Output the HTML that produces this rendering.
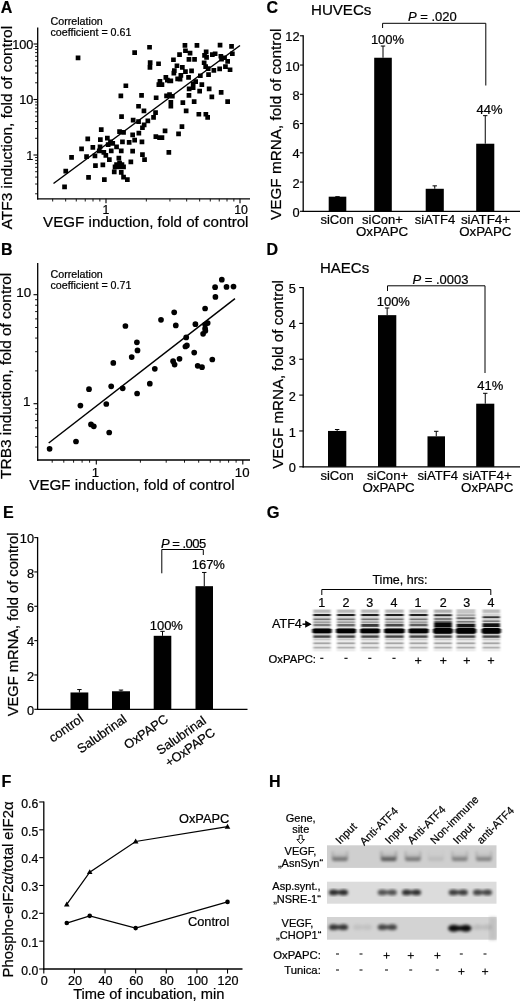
<!DOCTYPE html>
<html lang="en"><head><meta charset="utf-8"><title>Figure</title>
<style>
html,body{margin:0;padding:0;background:#fff}
svg{display:block;will-change:transform;opacity:0.999}
svg text{font-family:"Liberation Sans", Arial, Helvetica, sans-serif;fill:#000;stroke:#000;stroke-width:0.22px}
</style></head><body>
<svg width="520" height="1002" viewBox="0 0 520 1002">
<defs>
<linearGradient id="ugrad" x1="0" y1="0" x2="0" y2="1"><stop offset="0" stop-color="#000" stop-opacity="0"/><stop offset="0.5" stop-color="#000" stop-opacity="0.12"/><stop offset="0.74" stop-color="#000" stop-opacity="0.7"/><stop offset="0.88" stop-color="#000" stop-opacity="1"/><stop offset="1" stop-color="#000" stop-opacity="0.7"/></linearGradient>
<filter id="gblur" x="-5%" y="-10%" width="110%" height="120%"><feGaussianBlur stdDeviation="1.25 0.72"/></filter>
<filter id="hblur" x="-5%" y="-20%" width="110%" height="140%"><feGaussianBlur stdDeviation="1.35"/></filter>
</defs>
<rect width="520" height="1002" fill="#fff"/>
<g id="panelA">
<text x="0.7" y="12.6" font-size="16" font-weight="bold">A</text>
<line x1="37.7" y1="27.5" x2="37.7" y2="199.45000000000002" stroke="#000" stroke-width="1.3"/>
<line x1="37.050000000000004" y1="198.8" x2="250" y2="198.8" stroke="#000" stroke-width="1.3"/>
<line x1="35.1" y1="193.79283524064903" x2="37.7" y2="193.79283524064903" stroke="#000" stroke-width="0.9"/>
<line x1="35.1" y1="184.01977036305874" x2="37.7" y2="184.01977036305874" stroke="#000" stroke-width="0.9"/>
<line x1="35.1" y1="177.08567048129808" x2="37.7" y2="177.08567048129808" stroke="#000" stroke-width="0.9"/>
<line x1="35.1" y1="171.70716475935095" x2="37.7" y2="171.70716475935095" stroke="#000" stroke-width="0.9"/>
<line x1="35.1" y1="167.31260560370777" x2="37.7" y2="167.31260560370777" stroke="#000" stroke-width="0.9"/>
<line x1="35.1" y1="163.59705877920874" x2="37.7" y2="163.59705877920874" stroke="#000" stroke-width="0.9"/>
<line x1="35.1" y1="160.37850572194714" x2="37.7" y2="160.37850572194714" stroke="#000" stroke-width="0.9"/>
<line x1="35.1" y1="157.53954072611748" x2="37.7" y2="157.53954072611748" stroke="#000" stroke-width="0.9"/>
<line x1="35.1" y1="138.29283524064905" x2="37.7" y2="138.29283524064905" stroke="#000" stroke-width="0.9"/>
<line x1="35.1" y1="128.51977036305874" x2="37.7" y2="128.51977036305874" stroke="#000" stroke-width="0.9"/>
<line x1="35.1" y1="121.58567048129808" x2="37.7" y2="121.58567048129808" stroke="#000" stroke-width="0.9"/>
<line x1="35.1" y1="116.20716475935095" x2="37.7" y2="116.20716475935095" stroke="#000" stroke-width="0.9"/>
<line x1="35.1" y1="111.81260560370778" x2="37.7" y2="111.81260560370778" stroke="#000" stroke-width="0.9"/>
<line x1="35.1" y1="108.09705877920874" x2="37.7" y2="108.09705877920874" stroke="#000" stroke-width="0.9"/>
<line x1="35.1" y1="104.87850572194714" x2="37.7" y2="104.87850572194714" stroke="#000" stroke-width="0.9"/>
<line x1="35.1" y1="102.03954072611748" x2="37.7" y2="102.03954072611748" stroke="#000" stroke-width="0.9"/>
<line x1="35.1" y1="82.79283524064904" x2="37.7" y2="82.79283524064904" stroke="#000" stroke-width="0.9"/>
<line x1="35.1" y1="73.01977036305874" x2="37.7" y2="73.01977036305874" stroke="#000" stroke-width="0.9"/>
<line x1="35.1" y1="66.08567048129808" x2="37.7" y2="66.08567048129808" stroke="#000" stroke-width="0.9"/>
<line x1="35.1" y1="60.70716475935096" x2="37.7" y2="60.70716475935096" stroke="#000" stroke-width="0.9"/>
<line x1="35.1" y1="56.31260560370778" x2="37.7" y2="56.31260560370778" stroke="#000" stroke-width="0.9"/>
<line x1="35.1" y1="52.59705877920874" x2="37.7" y2="52.59705877920874" stroke="#000" stroke-width="0.9"/>
<line x1="35.1" y1="49.378505721947135" x2="37.7" y2="49.378505721947135" stroke="#000" stroke-width="0.9"/>
<line x1="35.1" y1="46.53954072611748" x2="37.7" y2="46.53954072611748" stroke="#000" stroke-width="0.9"/>
<line x1="33.5" y1="155.0" x2="37.7" y2="155.0" stroke="#000" stroke-width="1.1"/>
<line x1="33.5" y1="99.5" x2="37.7" y2="99.5" stroke="#000" stroke-width="1.1"/>
<line x1="33.5" y1="44.0" x2="37.7" y2="44.0" stroke="#000" stroke-width="1.1"/>
<text x="33.3" y="48.5" font-size="12.7" text-anchor="end">100</text>
<text x="33.3" y="104.0" font-size="12.7" text-anchor="end">10</text>
<text x="33.3" y="159.5" font-size="12.7" text-anchor="end">1</text>
<line x1="52.67603883794696" y1="198.8" x2="52.67603883794696" y2="201.5" stroke="#000" stroke-width="0.9"/>
<line x1="65.66198058102651" y1="198.8" x2="65.66198058102651" y2="201.5" stroke="#000" stroke-width="0.9"/>
<line x1="76.27226755140825" y1="198.8" x2="76.27226755140825" y2="201.5" stroke="#000" stroke-width="0.9"/>
<line x1="85.24313736191041" y1="198.8" x2="85.24313736191041" y2="201.5" stroke="#000" stroke-width="0.9"/>
<line x1="93.01405825692044" y1="198.8" x2="93.01405825692044" y2="201.5" stroke="#000" stroke-width="0.9"/>
<line x1="99.86849626486953" y1="198.8" x2="99.86849626486953" y2="201.5" stroke="#000" stroke-width="0.9"/>
<line x1="146.3380194189735" y1="198.8" x2="146.3380194189735" y2="201.5" stroke="#000" stroke-width="0.9"/>
<line x1="169.93424813243476" y1="198.8" x2="169.93424813243476" y2="201.5" stroke="#000" stroke-width="0.9"/>
<line x1="186.67603883794698" y1="198.8" x2="186.67603883794698" y2="201.5" stroke="#000" stroke-width="0.9"/>
<line x1="199.6619805810265" y1="198.8" x2="199.6619805810265" y2="201.5" stroke="#000" stroke-width="0.9"/>
<line x1="210.27226755140825" y1="198.8" x2="210.27226755140825" y2="201.5" stroke="#000" stroke-width="0.9"/>
<line x1="219.2431373619104" y1="198.8" x2="219.2431373619104" y2="201.5" stroke="#000" stroke-width="0.9"/>
<line x1="227.01405825692044" y1="198.8" x2="227.01405825692044" y2="201.5" stroke="#000" stroke-width="0.9"/>
<line x1="233.86849626486952" y1="198.8" x2="233.86849626486952" y2="201.5" stroke="#000" stroke-width="0.9"/>
<line x1="106.0" y1="198.8" x2="106.0" y2="203.20000000000002" stroke="#000" stroke-width="1.1"/>
<line x1="240.0" y1="198.8" x2="240.0" y2="203.20000000000002" stroke="#000" stroke-width="1.1"/>
<text x="106.0" y="213.5" font-size="12.3" text-anchor="middle">1</text>
<text x="241.0" y="213.5" font-size="12.3" text-anchor="middle">10</text>
<text x="50.5" y="24.6" font-size="10.7">Correlation</text>
<text x="50.5" y="35.9" font-size="10.7">coefficient = 0.61</text>
<text x="145.8" y="227" font-size="15.15" text-anchor="middle">VEGF induction, fold of control</text>
<text x="12.3" y="127.6" font-size="15.4" text-anchor="middle" transform="rotate(-90 12.3 127.6)">ATF3 induction, fold of control</text>
<line x1="53.5" y1="183.5" x2="240" y2="45.5" stroke="#000" stroke-width="1.5"/>
<path d="M62.2 184.6h4.7v4.7h-4.7zM63.4 168.8h4.7v4.7h-4.7zM69.2 155.1h4.7v4.7h-4.7zM79.2 146.6h4.7v4.7h-4.7zM85.4 136.6h4.7v4.7h-4.7zM84.2 154.2h4.7v4.7h-4.7zM86.2 175.1h4.7v4.7h-4.7zM90.5 145.1h4.7v4.7h-4.7zM92.6 153.5h4.7v4.7h-4.7zM93.1 163.3h4.7v4.7h-4.7zM98.9 127.2h4.7v4.7h-4.7zM98.0 137.3h4.7v4.7h-4.7zM97.7 144.6h4.7v4.7h-4.7zM96.9 148.5h4.7v4.7h-4.7zM100.5 162.6h4.7v4.7h-4.7zM102.0 177.2h4.7v4.7h-4.7zM101.5 150.0h4.7v4.7h-4.7zM119.2 114.2h4.7v4.7h-4.7zM130.8 117.7h4.7v4.7h-4.7zM136.2 119.2h4.7v4.7h-4.7zM141.6 108.5h4.7v4.7h-4.7zM145.5 118.5h4.7v4.7h-4.7zM151.2 115.1h4.7v4.7h-4.7zM153.2 110.2h4.7v4.7h-4.7zM141.8 122.6h4.7v4.7h-4.7zM140.1 125.4h4.7v4.7h-4.7zM117.2 129.2h4.7v4.7h-4.7zM121.2 130.0h4.7v4.7h-4.7zM136.5 130.8h4.7v4.7h-4.7zM130.3 132.6h4.7v4.7h-4.7zM105.0 135.8h4.7v4.7h-4.7zM120.1 139.5h4.7v4.7h-4.7zM126.8 140.0h4.7v4.7h-4.7zM132.3 137.7h4.7v4.7h-4.7zM139.6 139.5h4.7v4.7h-4.7zM108.1 139.5h4.7v4.7h-4.7zM105.8 142.2h4.7v4.7h-4.7zM110.4 141.1h4.7v4.7h-4.7zM114.2 144.6h4.7v4.7h-4.7zM108.9 148.5h4.7v4.7h-4.7zM118.9 148.5h4.7v4.7h-4.7zM130.3 148.8h4.7v4.7h-4.7zM103.5 153.1h4.7v4.7h-4.7zM107.0 157.3h4.7v4.7h-4.7zM116.5 155.8h4.7v4.7h-4.7zM140.1 152.2h4.7v4.7h-4.7zM142.2 157.2h4.7v4.7h-4.7zM128.5 159.5h4.7v4.7h-4.7zM114.2 162.2h4.7v4.7h-4.7zM117.2 160.8h4.7v4.7h-4.7zM119.6 162.2h4.7v4.7h-4.7zM116.5 164.6h4.7v4.7h-4.7zM121.2 164.6h4.7v4.7h-4.7zM112.7 164.6h4.7v4.7h-4.7zM111.9 169.5h4.7v4.7h-4.7zM118.9 170.0h4.7v4.7h-4.7zM121.2 174.8h4.7v4.7h-4.7zM125.0 177.2h4.7v4.7h-4.7zM153.5 134.2h4.7v4.7h-4.7zM157.2 135.3h4.7v4.7h-4.7zM159.6 135.3h4.7v4.7h-4.7zM162.7 128.5h4.7v4.7h-4.7zM176.2 131.5h4.7v4.7h-4.7zM179.6 124.2h4.7v4.7h-4.7zM166.5 150.0h4.7v4.7h-4.7zM147.2 44.9h4.7v4.7h-4.7zM132.3 50.2h4.7v4.7h-4.7zM147.8 60.2h4.7v4.7h-4.7zM147.6 65.1h4.7v4.7h-4.7zM156.2 61.4h4.7v4.7h-4.7zM163.5 75.1h4.7v4.7h-4.7zM167.2 78.5h4.7v4.7h-4.7zM165.0 77.7h4.7v4.7h-4.7zM157.6 78.9h4.7v4.7h-4.7zM156.5 82.2h4.7v4.7h-4.7zM159.6 82.2h4.7v4.7h-4.7zM123.5 83.4h4.7v4.7h-4.7zM118.5 93.5h4.7v4.7h-4.7zM139.2 93.1h4.7v4.7h-4.7zM153.8 95.4h4.7v4.7h-4.7zM164.2 93.5h4.7v4.7h-4.7zM167.2 92.2h4.7v4.7h-4.7zM136.2 103.9h4.7v4.7h-4.7zM182.6 43.0h4.7v4.7h-4.7zM194.6 43.0h4.7v4.7h-4.7zM217.7 42.8h4.7v4.7h-4.7zM229.2 44.1h4.7v4.7h-4.7zM183.1 48.4h4.7v4.7h-4.7zM187.7 50.8h4.7v4.7h-4.7zM177.2 52.2h4.7v4.7h-4.7zM171.1 57.4h4.7v4.7h-4.7zM186.6 57.1h4.7v4.7h-4.7zM192.2 57.1h4.7v4.7h-4.7zM203.8 49.6h4.7v4.7h-4.7zM202.2 53.0h4.7v4.7h-4.7zM204.2 55.0h4.7v4.7h-4.7zM210.0 52.2h4.7v4.7h-4.7zM212.8 51.4h4.7v4.7h-4.7zM218.5 53.9h4.7v4.7h-4.7zM222.2 55.4h4.7v4.7h-4.7zM219.2 56.9h4.7v4.7h-4.7zM230.0 51.4h4.7v4.7h-4.7zM225.3 59.1h4.7v4.7h-4.7zM201.8 60.4h4.7v4.7h-4.7zM203.3 64.2h4.7v4.7h-4.7zM174.6 63.4h4.7v4.7h-4.7zM180.0 65.1h4.7v4.7h-4.7zM172.0 68.2h4.7v4.7h-4.7zM171.5 70.8h4.7v4.7h-4.7zM183.1 69.2h4.7v4.7h-4.7zM189.2 68.5h4.7v4.7h-4.7zM178.5 73.1h4.7v4.7h-4.7zM175.3 76.6h4.7v4.7h-4.7zM177.7 76.9h4.7v4.7h-4.7zM186.2 75.1h4.7v4.7h-4.7zM168.5 78.5h4.7v4.7h-4.7zM205.8 66.2h4.7v4.7h-4.7zM211.5 68.0h4.7v4.7h-4.7zM217.3 66.6h4.7v4.7h-4.7zM223.1 64.2h4.7v4.7h-4.7zM227.7 67.4h4.7v4.7h-4.7zM206.2 72.2h4.7v4.7h-4.7zM198.0 73.4h4.7v4.7h-4.7zM193.3 79.2h4.7v4.7h-4.7zM190.8 81.5h4.7v4.7h-4.7zM199.5 82.2h4.7v4.7h-4.7zM190.8 85.4h4.7v4.7h-4.7zM186.8 86.5h4.7v4.7h-4.7zM206.8 86.5h4.7v4.7h-4.7zM197.3 88.8h4.7v4.7h-4.7zM218.8 90.0h4.7v4.7h-4.7zM186.6 93.1h4.7v4.7h-4.7zM209.5 94.6h4.7v4.7h-4.7zM170.0 93.9h4.7v4.7h-4.7zM180.5 100.2h4.7v4.7h-4.7zM191.8 99.2h4.7v4.7h-4.7zM225.3 99.2h4.7v4.7h-4.7zM168.5 100.0h4.7v4.7h-4.7zM168.5 103.9h4.7v4.7h-4.7zM183.8 108.5h4.7v4.7h-4.7zM196.5 111.9h4.7v4.7h-4.7zM203.5 111.9h4.7v4.7h-4.7zM205.3 115.1h4.7v4.7h-4.7zM75.7 55.6h4.7v4.7h-4.7z" fill="#000"/>
</g>
<g id="panelB">
<text x="1" y="254.6" font-size="16" font-weight="bold">B</text>
<line x1="37.7" y1="263" x2="37.7" y2="460.65" stroke="#000" stroke-width="1.3"/>
<line x1="37.050000000000004" y1="460" x2="250" y2="460" stroke="#000" stroke-width="1.3"/>
<line x1="35.1" y1="447.0754609452521" x2="37.7" y2="447.0754609452521" stroke="#000" stroke-width="0.9"/>
<line x1="35.1" y1="436.5122695273739" x2="37.7" y2="436.5122695273739" stroke="#000" stroke-width="0.9"/>
<line x1="35.1" y1="427.8815137081828" x2="37.7" y2="427.8815137081828" stroke="#000" stroke-width="0.9"/>
<line x1="35.1" y1="420.584313638446" x2="37.7" y2="420.584313638446" stroke="#000" stroke-width="0.9"/>
<line x1="35.1" y1="414.26319141787815" x2="37.7" y2="414.26319141787815" stroke="#000" stroke-width="0.9"/>
<line x1="35.1" y1="408.6875664711136" x2="37.7" y2="408.6875664711136" stroke="#000" stroke-width="0.9"/>
<line x1="35.1" y1="370.88773047262606" x2="37.7" y2="370.88773047262606" stroke="#000" stroke-width="0.9"/>
<line x1="35.1" y1="351.6937832355568" x2="37.7" y2="351.6937832355568" stroke="#000" stroke-width="0.9"/>
<line x1="35.1" y1="338.0754609452521" x2="37.7" y2="338.0754609452521" stroke="#000" stroke-width="0.9"/>
<line x1="35.1" y1="327.5122695273739" x2="37.7" y2="327.5122695273739" stroke="#000" stroke-width="0.9"/>
<line x1="35.1" y1="318.88151370818287" x2="37.7" y2="318.88151370818287" stroke="#000" stroke-width="0.9"/>
<line x1="35.1" y1="311.584313638446" x2="37.7" y2="311.584313638446" stroke="#000" stroke-width="0.9"/>
<line x1="35.1" y1="305.26319141787815" x2="37.7" y2="305.26319141787815" stroke="#000" stroke-width="0.9"/>
<line x1="35.1" y1="299.6875664711136" x2="37.7" y2="299.6875664711136" stroke="#000" stroke-width="0.9"/>
<line x1="33.5" y1="403.7" x2="37.7" y2="403.7" stroke="#000" stroke-width="1.1"/>
<line x1="33.5" y1="294.7" x2="37.7" y2="294.7" stroke="#000" stroke-width="1.1"/>
<text x="31.2" y="297.3" font-size="13.4" text-anchor="end">10</text>
<text x="30.5" y="406.3" font-size="13.4" text-anchor="end">1</text>
<line x1="52.19910563522675" y1="460" x2="52.19910563522675" y2="462.7" stroke="#000" stroke-width="0.9"/>
<line x1="63.79915818120379" y1="460" x2="63.79915818120379" y2="462.7" stroke="#000" stroke-width="0.9"/>
<line x1="73.60686286208862" y1="460" x2="73.60686286208862" y2="462.7" stroke="#000" stroke-width="0.9"/>
<line x1="82.10268309431973" y1="460" x2="82.10268309431973" y2="462.7" stroke="#000" stroke-width="0.9"/>
<line x1="89.5965276328611" y1="460" x2="89.5965276328611" y2="462.7" stroke="#000" stroke-width="0.9"/>
<line x1="140.40089436477325" y1="460" x2="140.40089436477325" y2="462.7" stroke="#000" stroke-width="0.9"/>
<line x1="166.19826381643054" y1="460" x2="166.19826381643054" y2="462.7" stroke="#000" stroke-width="0.9"/>
<line x1="184.5017887295465" y1="460" x2="184.5017887295465" y2="462.7" stroke="#000" stroke-width="0.9"/>
<line x1="198.69910563522677" y1="460" x2="198.69910563522677" y2="462.7" stroke="#000" stroke-width="0.9"/>
<line x1="210.29915818120378" y1="460" x2="210.29915818120378" y2="462.7" stroke="#000" stroke-width="0.9"/>
<line x1="220.10686286208863" y1="460" x2="220.10686286208863" y2="462.7" stroke="#000" stroke-width="0.9"/>
<line x1="228.60268309431973" y1="460" x2="228.60268309431973" y2="462.7" stroke="#000" stroke-width="0.9"/>
<line x1="236.09652763286107" y1="460" x2="236.09652763286107" y2="462.7" stroke="#000" stroke-width="0.9"/>
<line x1="96.3" y1="460" x2="96.3" y2="464.4" stroke="#000" stroke-width="1.1"/>
<line x1="242.8" y1="460" x2="242.8" y2="464.4" stroke="#000" stroke-width="1.1"/>
<text x="95.5" y="476.7" font-size="13.2" text-anchor="middle">1</text>
<text x="242.20000000000002" y="476.7" font-size="13.2" text-anchor="middle">10</text>
<text x="50.5" y="278.3" font-size="10.7">Correlation</text>
<text x="50.5" y="289.3" font-size="10.7">coefficient = 0.71</text>
<text x="132" y="489.7" font-size="15.15" text-anchor="middle">VEGF induction, fold of control</text>
<text x="10.9" y="375.8" font-size="15.4" text-anchor="middle" transform="rotate(-90 10.9 375.8)">TRB3 induction, fold of control</text>
<line x1="48.7" y1="443" x2="235" y2="298.7" stroke="#000" stroke-width="1.5"/>
<circle cx="49.6" cy="448.8" r="2.85"/>
<circle cx="76.0" cy="441.5" r="2.85"/>
<circle cx="80.4" cy="405.6" r="2.85"/>
<circle cx="89.0" cy="389.2" r="2.85"/>
<circle cx="91.0" cy="424.4" r="2.85"/>
<circle cx="93.8" cy="426.3" r="2.85"/>
<circle cx="106.3" cy="404.0" r="2.85"/>
<circle cx="109.2" cy="432.5" r="2.85"/>
<circle cx="111.2" cy="386.3" r="2.85"/>
<circle cx="122.7" cy="388.3" r="2.85"/>
<circle cx="137.1" cy="393.5" r="2.85"/>
<circle cx="125.4" cy="326.0" r="2.85"/>
<circle cx="161.0" cy="319.8" r="2.85"/>
<circle cx="136.9" cy="342.3" r="2.85"/>
<circle cx="137.5" cy="350.4" r="2.85"/>
<circle cx="131.7" cy="357.1" r="2.85"/>
<circle cx="113.3" cy="362.9" r="2.85"/>
<circle cx="154.8" cy="368.8" r="2.85"/>
<circle cx="149.8" cy="383.7" r="2.85"/>
<circle cx="221.8" cy="279.7" r="2.85"/>
<circle cx="215.1" cy="287.2" r="2.85"/>
<circle cx="226.5" cy="286.9" r="2.85"/>
<circle cx="233.5" cy="286.6" r="2.85"/>
<circle cx="215.4" cy="296.9" r="2.85"/>
<circle cx="205.1" cy="308.5" r="2.85"/>
<circle cx="174.2" cy="312.3" r="2.85"/>
<circle cx="175.8" cy="325.4" r="2.85"/>
<circle cx="195.4" cy="324.2" r="2.85"/>
<circle cx="207.7" cy="323.1" r="2.85"/>
<circle cx="205.1" cy="324.6" r="2.85"/>
<circle cx="205.1" cy="328.5" r="2.85"/>
<circle cx="205.4" cy="330.8" r="2.85"/>
<circle cx="203.1" cy="333.8" r="2.85"/>
<circle cx="186.2" cy="337.4" r="2.85"/>
<circle cx="186.9" cy="345.4" r="2.85"/>
<circle cx="185.4" cy="346.5" r="2.85"/>
<circle cx="194.2" cy="352.6" r="2.85"/>
<circle cx="179.5" cy="358.8" r="2.85"/>
<circle cx="173.1" cy="361.2" r="2.85"/>
<circle cx="174.6" cy="364.6" r="2.85"/>
<circle cx="212.3" cy="359.5" r="2.85"/>
<circle cx="197.7" cy="365.8" r="2.85"/>
<circle cx="202.0" cy="367.2" r="2.85"/>
</g>
<g id="panelC">
<text x="266.5" y="12.8" font-size="16" font-weight="bold">C</text>
<text x="311" y="14.8" font-size="15.1">HUVECs</text>
<line x1="303.2" y1="35.30000000000001" x2="303.2" y2="211.95000000000002" stroke="#000" stroke-width="1.3"/>
<line x1="302.55" y1="211.3" x2="520" y2="211.3" stroke="#000" stroke-width="1.3"/>
<line x1="299.9" y1="211.3" x2="303.2" y2="211.3" stroke="#000" stroke-width="1.1"/>
<text x="299.5" y="216.9" font-size="12.8" text-anchor="end">0</text>
<line x1="299.9" y1="182.05" x2="303.2" y2="182.05" stroke="#000" stroke-width="1.1"/>
<text x="299.5" y="187.65" font-size="12.8" text-anchor="end">2</text>
<line x1="299.9" y1="152.8" x2="303.2" y2="152.8" stroke="#000" stroke-width="1.1"/>
<text x="299.5" y="158.4" font-size="12.8" text-anchor="end">4</text>
<line x1="299.9" y1="123.55000000000001" x2="303.2" y2="123.55000000000001" stroke="#000" stroke-width="1.1"/>
<text x="299.5" y="129.15" font-size="12.8" text-anchor="end">6</text>
<line x1="299.9" y1="94.30000000000001" x2="303.2" y2="94.30000000000001" stroke="#000" stroke-width="1.1"/>
<text x="299.5" y="99.9" font-size="12.8" text-anchor="end">8</text>
<line x1="299.9" y1="65.05000000000001" x2="303.2" y2="65.05000000000001" stroke="#000" stroke-width="1.1"/>
<text x="299.5" y="70.65" font-size="12.8" text-anchor="end">10</text>
<line x1="299.9" y1="35.80000000000001" x2="303.2" y2="35.80000000000001" stroke="#000" stroke-width="1.1"/>
<text x="299.5" y="41.40000000000001" font-size="12.8" text-anchor="end">12</text>
<rect x="328.70" y="196.68" width="17.60" height="14.62" fill="#000"/>
<line x1="337.5" y1="196.675" x2="337.5" y2="196.675" stroke="#000" stroke-width="1.0"/>
<line x1="335.3" y1="196.675" x2="339.7" y2="196.675" stroke="#000" stroke-width="1.0"/>
<rect x="374.20" y="57.74" width="17.60" height="153.56" fill="#000"/>
<line x1="383.0" y1="57.73750000000001" x2="383.0" y2="46.037499999999994" stroke="#000" stroke-width="1.0"/>
<line x1="380.8" y1="46.037499999999994" x2="385.2" y2="46.037499999999994" stroke="#000" stroke-width="1.0"/>
<rect x="425.70" y="188.78" width="18.10" height="22.52" fill="#000"/>
<line x1="434.75" y1="188.7775" x2="434.75" y2="185.85250000000002" stroke="#000" stroke-width="1.0"/>
<line x1="432.55" y1="185.85250000000002" x2="436.95" y2="185.85250000000002" stroke="#000" stroke-width="1.0"/>
<rect x="476.20" y="143.73" width="18.10" height="67.57" fill="#000"/>
<line x1="485.25" y1="143.73250000000002" x2="485.25" y2="115.65250000000002" stroke="#000" stroke-width="1.0"/>
<line x1="483.05" y1="115.65250000000002" x2="487.45" y2="115.65250000000002" stroke="#000" stroke-width="1.0"/>
<polyline points="382.6,28 382.6,23.3 485.8,23.3 485.8,85.5" fill="none" stroke="#000" stroke-width="1.0"/>
<text x="408" y="21.3" font-size="13"><tspan font-style="italic">P</tspan> = .020</text>
<text x="387.5" y="44" font-size="13" text-anchor="middle">100%</text>
<text x="489.5" y="113.8" font-size="13" text-anchor="middle">44%</text>
<text x="337" y="224.3" font-size="13" text-anchor="middle">siCon</text>
<text x="382.5" y="224.3" font-size="13" text-anchor="middle">siCon+</text>
<text x="382" y="236.3" font-size="13.3" text-anchor="middle">OxPAPC</text>
<text x="435" y="224.3" font-size="13.1" text-anchor="middle">siATF4</text>
<text x="485.5" y="224.3" font-size="13.4" text-anchor="middle">siATF4+</text>
<text x="485.3" y="236.3" font-size="13.3" text-anchor="middle">OxPAPC</text>
<text x="281.4" y="124.3" font-size="15.3" text-anchor="middle" transform="rotate(-90 281.4 124.3)">VEGF mRNA, fold of control</text>
</g>
<g id="panelD">
<text x="266.5" y="254.8" font-size="16" font-weight="bold">D</text>
<text x="320" y="273.1" font-size="15.0">HAECs</text>
<line x1="303.2" y1="287.05" x2="303.2" y2="467.45" stroke="#000" stroke-width="1.3"/>
<line x1="302.55" y1="466.8" x2="520" y2="466.8" stroke="#000" stroke-width="1.3"/>
<line x1="299.2" y1="466.8" x2="303.2" y2="466.8" stroke="#000" stroke-width="1.1"/>
<text x="295.9" y="472.40000000000003" font-size="12.8" text-anchor="end">0</text>
<line x1="299.2" y1="430.95" x2="303.2" y2="430.95" stroke="#000" stroke-width="1.1"/>
<text x="295.9" y="436.55" font-size="12.8" text-anchor="end">1</text>
<line x1="299.2" y1="395.1" x2="303.2" y2="395.1" stroke="#000" stroke-width="1.1"/>
<text x="295.9" y="400.70000000000005" font-size="12.8" text-anchor="end">2</text>
<line x1="299.2" y1="359.25" x2="303.2" y2="359.25" stroke="#000" stroke-width="1.1"/>
<text x="295.9" y="364.85" font-size="12.8" text-anchor="end">3</text>
<line x1="299.2" y1="323.4" x2="303.2" y2="323.4" stroke="#000" stroke-width="1.1"/>
<text x="295.9" y="329.0" font-size="12.8" text-anchor="end">4</text>
<line x1="299.2" y1="287.55" x2="303.2" y2="287.55" stroke="#000" stroke-width="1.1"/>
<text x="295.9" y="293.15000000000003" font-size="12.8" text-anchor="end">5</text>
<rect x="328.00" y="430.95" width="18.30" height="35.85" fill="#000"/>
<line x1="337.15" y1="430.95" x2="337.15" y2="429.516" stroke="#000" stroke-width="1.0"/>
<line x1="334.95" y1="429.516" x2="339.34999999999997" y2="429.516" stroke="#000" stroke-width="1.0"/>
<rect x="378.00" y="315.15" width="18.30" height="151.65" fill="#000"/>
<line x1="387.15" y1="315.1545" x2="387.15" y2="307.9845" stroke="#000" stroke-width="1.0"/>
<line x1="384.95" y1="307.9845" x2="389.34999999999997" y2="307.9845" stroke="#000" stroke-width="1.0"/>
<rect x="427.50" y="436.33" width="17.50" height="30.47" fill="#000"/>
<line x1="436.25" y1="436.3275" x2="436.25" y2="431.3085" stroke="#000" stroke-width="1.0"/>
<line x1="434.05" y1="431.3085" x2="438.45" y2="431.3085" stroke="#000" stroke-width="1.0"/>
<rect x="476.20" y="403.70" width="18.10" height="63.10" fill="#000"/>
<line x1="485.25" y1="403.704" x2="485.25" y2="393.3075" stroke="#000" stroke-width="1.0"/>
<line x1="483.05" y1="393.3075" x2="487.45" y2="393.3075" stroke="#000" stroke-width="1.0"/>
<polyline points="387.5,291 387.5,285.8 485,285.8 485,373" fill="none" stroke="#000" stroke-width="1.0"/>
<text x="412.5" y="284.2" font-size="13"><tspan font-style="italic">P</tspan> = .0003</text>
<text x="393.3" y="305.8" font-size="13" text-anchor="middle">100%</text>
<text x="490.3" y="390" font-size="13" text-anchor="middle">41%</text>
<text x="337" y="480" font-size="13" text-anchor="middle">siCon</text>
<text x="387.5" y="480" font-size="13.1" text-anchor="middle">siCon+</text>
<text x="388.5" y="492.3" font-size="13.3" text-anchor="middle">OxPAPC</text>
<text x="437.7" y="480" font-size="13.1" text-anchor="middle">siATF4</text>
<text x="487.2" y="480" font-size="13.4" text-anchor="middle">siATF4+</text>
<text x="487.2" y="492.3" font-size="13.3" text-anchor="middle">OxPAPC</text>
<text x="283.0" y="374.4" font-size="15.1" text-anchor="middle" transform="rotate(-90 283.0 374.4)">VEGF mRNA, fold of control</text>
</g>
<g id="panelE">
<text x="3" y="518.3" font-size="16" font-weight="bold">E</text>
<line x1="37.6" y1="537.0999999999999" x2="37.6" y2="709.9499999999999" stroke="#000" stroke-width="1.3"/>
<line x1="36.95" y1="709.3" x2="247.5" y2="709.3" stroke="#000" stroke-width="1.3"/>
<line x1="34.300000000000004" y1="709.3" x2="37.6" y2="709.3" stroke="#000" stroke-width="1.1"/>
<text x="34.0" y="714.9" font-size="12.8" text-anchor="end">0</text>
<line x1="34.300000000000004" y1="674.9599999999999" x2="37.6" y2="674.9599999999999" stroke="#000" stroke-width="1.1"/>
<text x="34.0" y="680.56" font-size="12.8" text-anchor="end">2</text>
<line x1="34.300000000000004" y1="640.6199999999999" x2="37.6" y2="640.6199999999999" stroke="#000" stroke-width="1.1"/>
<text x="34.0" y="646.2199999999999" font-size="12.8" text-anchor="end">4</text>
<line x1="34.300000000000004" y1="606.28" x2="37.6" y2="606.28" stroke="#000" stroke-width="1.1"/>
<text x="34.0" y="611.88" font-size="12.8" text-anchor="end">6</text>
<line x1="34.300000000000004" y1="571.9399999999999" x2="37.6" y2="571.9399999999999" stroke="#000" stroke-width="1.1"/>
<text x="34.0" y="577.54" font-size="12.8" text-anchor="end">8</text>
<line x1="34.300000000000004" y1="537.5999999999999" x2="37.6" y2="537.5999999999999" stroke="#000" stroke-width="1.1"/>
<text x="34.0" y="543.1999999999999" font-size="12.8" text-anchor="end">10</text>
<rect x="70.50" y="692.47" width="17.80" height="16.83" fill="#000"/>
<line x1="79.4" y1="692.4734" x2="79.4" y2="689.5545" stroke="#000" stroke-width="1.0"/>
<line x1="77.2" y1="689.5545" x2="81.60000000000001" y2="689.5545" stroke="#000" stroke-width="1.0"/>
<rect x="112.00" y="691.27" width="18.00" height="18.03" fill="#000"/>
<line x1="121.0" y1="691.2715" x2="121.0" y2="690.0695999999999" stroke="#000" stroke-width="1.0"/>
<line x1="118.8" y1="690.0695999999999" x2="123.2" y2="690.0695999999999" stroke="#000" stroke-width="1.0"/>
<rect x="153.70" y="635.81" width="17.60" height="73.49" fill="#000"/>
<line x1="162.5" y1="635.8123999999999" x2="162.5" y2="631.3481999999999" stroke="#000" stroke-width="1.0"/>
<line x1="160.3" y1="631.3481999999999" x2="164.7" y2="631.3481999999999" stroke="#000" stroke-width="1.0"/>
<rect x="195.50" y="586.19" width="17.50" height="123.11" fill="#000"/>
<line x1="204.25" y1="586.1911" x2="204.25" y2="572.4550999999999" stroke="#000" stroke-width="1.0"/>
<line x1="202.05" y1="572.4550999999999" x2="206.45" y2="572.4550999999999" stroke="#000" stroke-width="1.0"/>
<polyline points="161.8,573.3 161.8,549.5 203.3,549.5 203.3,555" fill="none" stroke="#000" stroke-width="1.0"/>
<text x="161" y="547.5" font-size="13" letter-spacing="-0.5"><tspan font-style="italic">P</tspan> = .005</text>
<text x="208.3" y="569.3" font-size="13" text-anchor="middle">167%</text>
<text x="166.3" y="630" font-size="13" text-anchor="middle">100%</text>
<text x="84.3" y="720.7" font-size="12.8" text-anchor="end" transform="rotate(-35 84.3 720.7)">control</text>
<text x="127.7" y="721" font-size="12.8" text-anchor="end" transform="rotate(-35 127.7 721)">Salubrinal</text>
<text x="169" y="721" font-size="12.8" text-anchor="end" transform="rotate(-35 169 721)">OxPAPC</text>
<text x="207" y="722.5" font-size="12.8" text-anchor="end" transform="rotate(-35 207 722.5)">Salubrinal</text>
<text x="216.2" y="734.5" font-size="12.8" text-anchor="end" transform="rotate(-35 216.2 734.5)">+OxPAPC</text>
<text x="17.9" y="624.4" font-size="14.7" text-anchor="middle" transform="rotate(-90 17.9 624.4)">VEGF mRNA, fold of control</text>
</g>
<g id="panelF">
<text x="1.5" y="787" font-size="16" font-weight="bold">F</text>
<line x1="43.8" y1="801.5" x2="43.8" y2="969.65" stroke="#000" stroke-width="1.3"/>
<line x1="43.15" y1="969.0" x2="242.5" y2="969.0" stroke="#000" stroke-width="1.3"/>
<line x1="39.199999999999996" y1="969.0" x2="43.8" y2="969.0" stroke="#000" stroke-width="1.1"/>
<text x="38.199999999999996" y="974.8" font-size="12.2" text-anchor="end">0.0</text>
<line x1="39.199999999999996" y1="941.16" x2="43.8" y2="941.16" stroke="#000" stroke-width="1.1"/>
<text x="38.199999999999996" y="946.9599999999999" font-size="12.2" text-anchor="end">0.1</text>
<line x1="39.199999999999996" y1="913.32" x2="43.8" y2="913.32" stroke="#000" stroke-width="1.1"/>
<text x="38.199999999999996" y="919.12" font-size="12.2" text-anchor="end">0.2</text>
<line x1="39.199999999999996" y1="885.48" x2="43.8" y2="885.48" stroke="#000" stroke-width="1.1"/>
<text x="38.199999999999996" y="891.28" font-size="12.2" text-anchor="end">0.3</text>
<line x1="39.199999999999996" y1="857.64" x2="43.8" y2="857.64" stroke="#000" stroke-width="1.1"/>
<text x="38.199999999999996" y="863.4399999999999" font-size="12.2" text-anchor="end">0.4</text>
<line x1="39.199999999999996" y1="829.8" x2="43.8" y2="829.8" stroke="#000" stroke-width="1.1"/>
<text x="38.199999999999996" y="835.5999999999999" font-size="12.2" text-anchor="end">0.5</text>
<line x1="39.199999999999996" y1="801.96" x2="43.8" y2="801.96" stroke="#000" stroke-width="1.1"/>
<text x="38.199999999999996" y="807.76" font-size="12.2" text-anchor="end">0.6</text>
<line x1="43.8" y1="969.0" x2="43.8" y2="973.5" stroke="#000" stroke-width="1.1"/>
<text x="44.3" y="984.9" font-size="12.6" text-anchor="middle">0</text>
<line x1="74.41999999999999" y1="969.0" x2="74.41999999999999" y2="973.5" stroke="#000" stroke-width="1.1"/>
<text x="74.91999999999999" y="984.9" font-size="12.6" text-anchor="middle">20</text>
<line x1="105.03999999999999" y1="969.0" x2="105.03999999999999" y2="973.5" stroke="#000" stroke-width="1.1"/>
<text x="105.53999999999999" y="984.9" font-size="12.6" text-anchor="middle">40</text>
<line x1="135.66" y1="969.0" x2="135.66" y2="973.5" stroke="#000" stroke-width="1.1"/>
<text x="136.16" y="984.9" font-size="12.6" text-anchor="middle">60</text>
<line x1="166.27999999999997" y1="969.0" x2="166.27999999999997" y2="973.5" stroke="#000" stroke-width="1.1"/>
<text x="166.77999999999997" y="984.9" font-size="12.6" text-anchor="middle">80</text>
<line x1="196.89999999999998" y1="969.0" x2="196.89999999999998" y2="973.5" stroke="#000" stroke-width="1.1"/>
<text x="197.39999999999998" y="984.9" font-size="12.6" text-anchor="middle">100</text>
<line x1="227.51999999999998" y1="969.0" x2="227.51999999999998" y2="973.5" stroke="#000" stroke-width="1.1"/>
<text x="228.01999999999998" y="984.9" font-size="12.6" text-anchor="middle">120</text>
<polyline points="66.77,904.41 89.73,872.12 135.66,841.49 227.52,826.74" fill="none" stroke="#000" stroke-width="1.25"/>
<polyline points="66.77,923.06 89.73,915.83 135.66,928.08 227.52,901.91" fill="none" stroke="#000" stroke-width="1.25"/>
<path d="M66.77 901.51L69.57 906.41H63.97z"/>
<path d="M89.73 869.22L92.53 874.12H86.93z"/>
<path d="M135.66 838.59L138.46 843.49H132.85999999999999z"/>
<path d="M227.52 823.84L230.32000000000002 828.74H224.72z"/>
<circle cx="66.77" cy="923.06" r="2.3"/>
<circle cx="89.73" cy="915.83" r="2.3"/>
<circle cx="135.66" cy="928.08" r="2.3"/>
<circle cx="227.52" cy="901.91" r="2.3"/>
<text x="179" y="822.5" font-size="12.8">OxPAPC</text>
<text x="188" y="925.6" font-size="12.8">Control</text>
<text x="148.8" y="999.2" font-size="14.7" text-anchor="middle">Time of incubation, min</text>
<text x="13.4" y="889.5" font-size="14.8" text-anchor="middle" transform="rotate(-90 13.4 889.5)">Phospho-eIF2α/total eIF2α</text>
</g>
<g id="panelG">
<text x="266.7" y="518.2" font-size="16.4" font-weight="bold">G</text>
<text x="400" y="583.6" font-size="12.5" text-anchor="middle">Time, hrs:</text>
<polyline points="321.8,595 321.8,589.5 490.8,589.5 490.8,595" fill="none" stroke="#000" stroke-width="1.0"/>
<text x="321.7" y="606.9" font-size="12.5" text-anchor="middle">1</text>
<text x="345.9" y="606.9" font-size="12.5" text-anchor="middle">2</text>
<text x="369.7" y="606.9" font-size="12.5" text-anchor="middle">3</text>
<text x="393.9" y="606.9" font-size="12.5" text-anchor="middle">4</text>
<text x="418.09999999999997" y="606.9" font-size="12.5" text-anchor="middle">1</text>
<text x="443.2" y="606.9" font-size="12.5" text-anchor="middle">2</text>
<text x="466.7" y="606.9" font-size="12.5" text-anchor="middle">3</text>
<text x="490.9" y="606.9" font-size="12.5" text-anchor="middle">4</text>
<g filter="url(#gblur)" transform="translate(0 0.6)">
<rect x="313.00" y="608.30" width="18.00" height="42.50" fill="#000" opacity="0.08"/>
<rect x="313.00" y="613.00" width="18.00" height="14.00" fill="#000" opacity="0.10"/>
<rect x="313.00" y="633.00" width="18.00" height="5.00" fill="#000" opacity="0.14"/>
<rect x="313.40" y="609.10" width="17.20" height="3.00" fill="#000" opacity="0.22"/>
<rect x="313.40" y="613.45" width="17.20" height="1.90" fill="#000" opacity="0.9"/>
<rect x="313.40" y="617.90" width="17.20" height="1.60" fill="#000" opacity="0.45"/>
<rect x="313.40" y="620.90" width="17.20" height="1.40" fill="#000" opacity="0.28"/>
<rect x="313.40" y="623.30" width="17.20" height="2.20" fill="#000" opacity="0.42"/>
<rect x="313.40" y="627.80" width="17.20" height="5.00" fill="#000" opacity="1.0"/>
<rect x="313.40" y="634.85" width="17.20" height="2.30" fill="#000" opacity="0.66"/>
<rect x="313.40" y="638.35" width="17.20" height="1.30" fill="#000" opacity="0.16"/>
<rect x="313.40" y="641.80" width="17.20" height="1.80" fill="#000" opacity="0.3"/>
<rect x="313.40" y="646.10" width="17.20" height="1.80" fill="#000" opacity="0.25"/>
<rect x="312.20" y="628.40" width="19.60" height="3.80" fill="#000" opacity="0.95"/>
<rect x="336.70" y="608.30" width="18.70" height="42.50" fill="#000" opacity="0.08"/>
<rect x="336.70" y="613.00" width="18.70" height="14.00" fill="#000" opacity="0.10"/>
<rect x="336.70" y="633.00" width="18.70" height="5.00" fill="#000" opacity="0.14"/>
<rect x="337.10" y="609.10" width="17.90" height="3.00" fill="#000" opacity="0.22"/>
<rect x="337.10" y="613.45" width="17.90" height="1.90" fill="#000" opacity="0.9"/>
<rect x="337.10" y="617.90" width="17.90" height="1.60" fill="#000" opacity="0.45"/>
<rect x="337.10" y="620.90" width="17.90" height="1.40" fill="#000" opacity="0.28"/>
<rect x="337.10" y="623.40" width="17.90" height="2.40" fill="#000" opacity="0.5"/>
<rect x="337.10" y="627.80" width="17.90" height="5.00" fill="#000" opacity="1.0"/>
<rect x="337.10" y="634.85" width="17.90" height="2.30" fill="#000" opacity="0.66"/>
<rect x="337.10" y="638.35" width="17.90" height="1.30" fill="#000" opacity="0.16"/>
<rect x="337.10" y="641.80" width="17.90" height="1.80" fill="#000" opacity="0.3"/>
<rect x="337.10" y="646.10" width="17.90" height="1.80" fill="#000" opacity="0.25"/>
<rect x="335.90" y="628.40" width="20.30" height="3.80" fill="#000" opacity="0.95"/>
<rect x="360.80" y="608.30" width="18.50" height="42.50" fill="#000" opacity="0.08"/>
<rect x="360.80" y="613.00" width="18.50" height="14.00" fill="#000" opacity="0.10"/>
<rect x="360.80" y="633.00" width="18.50" height="5.00" fill="#000" opacity="0.14"/>
<rect x="361.20" y="609.10" width="17.70" height="3.00" fill="#000" opacity="0.22"/>
<rect x="361.20" y="613.45" width="17.70" height="1.90" fill="#000" opacity="0.9"/>
<rect x="361.20" y="617.90" width="17.70" height="1.60" fill="#000" opacity="0.45"/>
<rect x="361.20" y="620.90" width="17.70" height="1.40" fill="#000" opacity="0.28"/>
<rect x="361.20" y="623.40" width="17.70" height="2.80" fill="#000" opacity="0.72"/>
<rect x="361.20" y="627.80" width="17.70" height="5.00" fill="#000" opacity="1.0"/>
<rect x="361.20" y="634.85" width="17.70" height="2.30" fill="#000" opacity="0.66"/>
<rect x="361.20" y="638.35" width="17.70" height="1.30" fill="#000" opacity="0.16"/>
<rect x="361.20" y="641.80" width="17.70" height="1.80" fill="#000" opacity="0.3"/>
<rect x="361.20" y="646.10" width="17.70" height="1.80" fill="#000" opacity="0.25"/>
<rect x="360.00" y="628.40" width="20.10" height="3.80" fill="#000" opacity="0.95"/>
<rect x="384.80" y="608.30" width="19.20" height="42.50" fill="#000" opacity="0.08"/>
<rect x="384.80" y="613.00" width="19.20" height="14.00" fill="#000" opacity="0.10"/>
<rect x="384.80" y="633.00" width="19.20" height="5.00" fill="#000" opacity="0.14"/>
<rect x="385.20" y="609.10" width="18.40" height="3.00" fill="#000" opacity="0.22"/>
<rect x="385.20" y="613.45" width="18.40" height="1.90" fill="#000" opacity="0.9"/>
<rect x="385.20" y="617.90" width="18.40" height="1.60" fill="#000" opacity="0.45"/>
<rect x="385.20" y="620.90" width="18.40" height="1.40" fill="#000" opacity="0.28"/>
<rect x="385.20" y="623.30" width="18.40" height="2.60" fill="#000" opacity="0.66"/>
<rect x="385.20" y="627.80" width="18.40" height="5.00" fill="#000" opacity="1.0"/>
<rect x="385.20" y="634.85" width="18.40" height="2.30" fill="#000" opacity="0.66"/>
<rect x="385.20" y="638.35" width="18.40" height="1.30" fill="#000" opacity="0.16"/>
<rect x="385.20" y="641.80" width="18.40" height="1.80" fill="#000" opacity="0.3"/>
<rect x="385.20" y="646.10" width="18.40" height="1.80" fill="#000" opacity="0.25"/>
<rect x="384.00" y="628.40" width="20.80" height="3.80" fill="#000" opacity="0.95"/>
<rect x="409.20" y="608.30" width="18.80" height="42.50" fill="#000" opacity="0.08"/>
<rect x="409.20" y="613.00" width="18.80" height="14.00" fill="#000" opacity="0.10"/>
<rect x="409.20" y="633.00" width="18.80" height="5.00" fill="#000" opacity="0.14"/>
<rect x="409.60" y="609.10" width="18.00" height="3.00" fill="#000" opacity="0.22"/>
<rect x="409.60" y="613.45" width="18.00" height="1.90" fill="#000" opacity="0.9"/>
<rect x="409.60" y="617.90" width="18.00" height="1.60" fill="#000" opacity="0.45"/>
<rect x="409.60" y="620.90" width="18.00" height="1.40" fill="#000" opacity="0.28"/>
<rect x="409.60" y="623.20" width="18.00" height="2.40" fill="#000" opacity="0.55"/>
<rect x="409.60" y="627.80" width="18.00" height="5.00" fill="#000" opacity="1.0"/>
<rect x="409.60" y="634.85" width="18.00" height="2.30" fill="#000" opacity="0.66"/>
<rect x="409.60" y="638.35" width="18.00" height="1.30" fill="#000" opacity="0.16"/>
<rect x="409.60" y="641.80" width="18.00" height="1.80" fill="#000" opacity="0.3"/>
<rect x="409.60" y="646.10" width="18.00" height="1.80" fill="#000" opacity="0.25"/>
<rect x="408.40" y="628.40" width="20.40" height="3.80" fill="#000" opacity="0.95"/>
<rect x="433.70" y="608.30" width="18.60" height="42.50" fill="#000" opacity="0.08"/>
<rect x="433.70" y="613.00" width="18.60" height="14.00" fill="#000" opacity="0.10"/>
<rect x="433.70" y="633.00" width="18.60" height="5.00" fill="#000" opacity="0.14"/>
<rect x="434.10" y="609.10" width="17.80" height="3.00" fill="#000" opacity="0.25"/>
<rect x="434.10" y="613.65" width="17.80" height="1.90" fill="#000" opacity="0.8"/>
<rect x="434.10" y="617.60" width="17.80" height="1.60" fill="#000" opacity="0.5"/>
<rect x="434.10" y="620.20" width="17.80" height="1.20" fill="#000" opacity="0.5"/>
<rect x="434.10" y="621.70" width="17.80" height="5.20" fill="#000" opacity="0.97"/>
<rect x="434.10" y="627.40" width="17.80" height="5.80" fill="#000" opacity="1.0"/>
<rect x="434.10" y="634.85" width="17.80" height="2.30" fill="#000" opacity="0.66"/>
<rect x="434.10" y="638.35" width="17.80" height="1.30" fill="#000" opacity="0.16"/>
<rect x="434.10" y="641.80" width="17.80" height="1.80" fill="#000" opacity="0.3"/>
<rect x="434.10" y="646.10" width="17.80" height="1.80" fill="#000" opacity="0.25"/>
<rect x="432.90" y="628.40" width="20.20" height="3.80" fill="#000" opacity="0.95"/>
<rect x="456.20" y="608.30" width="19.40" height="42.50" fill="#000" opacity="0.08"/>
<rect x="456.20" y="613.00" width="19.40" height="14.00" fill="#000" opacity="0.10"/>
<rect x="456.20" y="633.00" width="19.40" height="5.00" fill="#000" opacity="0.14"/>
<rect x="456.60" y="608.80" width="18.60" height="4.00" fill="#000" opacity="0.16"/>
<rect x="456.60" y="613.80" width="18.60" height="1.60" fill="#000" opacity="0.22"/>
<rect x="456.60" y="616.70" width="18.60" height="1.80" fill="#000" opacity="0.5"/>
<rect x="456.60" y="620.45" width="18.60" height="1.50" fill="#000" opacity="0.45"/>
<rect x="456.60" y="623.20" width="18.60" height="3.60" fill="#000" opacity="0.9"/>
<rect x="456.60" y="627.40" width="18.60" height="5.80" fill="#000" opacity="1.0"/>
<rect x="456.60" y="634.85" width="18.60" height="2.30" fill="#000" opacity="0.66"/>
<rect x="456.60" y="638.35" width="18.60" height="1.30" fill="#000" opacity="0.16"/>
<rect x="456.60" y="641.80" width="18.60" height="1.80" fill="#000" opacity="0.3"/>
<rect x="456.60" y="646.10" width="18.60" height="1.80" fill="#000" opacity="0.25"/>
<rect x="455.40" y="628.40" width="21.00" height="3.80" fill="#000" opacity="0.95"/>
<rect x="482.20" y="608.30" width="18.10" height="42.50" fill="#000" opacity="0.08"/>
<rect x="482.20" y="613.00" width="18.10" height="14.00" fill="#000" opacity="0.10"/>
<rect x="482.20" y="633.00" width="18.10" height="5.00" fill="#000" opacity="0.14"/>
<rect x="482.60" y="609.00" width="17.30" height="3.20" fill="#000" opacity="0.2"/>
<rect x="482.60" y="615.70" width="17.30" height="1.80" fill="#000" opacity="0.75"/>
<rect x="482.60" y="619.85" width="17.30" height="1.50" fill="#000" opacity="0.45"/>
<rect x="482.60" y="622.70" width="17.30" height="3.80" fill="#000" opacity="0.92"/>
<rect x="482.60" y="627.40" width="17.30" height="5.80" fill="#000" opacity="1.0"/>
<rect x="482.60" y="634.85" width="17.30" height="2.30" fill="#000" opacity="0.66"/>
<rect x="482.60" y="638.35" width="17.30" height="1.30" fill="#000" opacity="0.16"/>
<rect x="482.60" y="641.80" width="17.30" height="1.80" fill="#000" opacity="0.3"/>
<rect x="482.60" y="646.10" width="17.30" height="1.80" fill="#000" opacity="0.25"/>
<rect x="481.40" y="628.40" width="19.70" height="3.80" fill="#000" opacity="0.95"/>
</g>
<text x="272" y="628.2" font-size="12.6">ATF4</text>
<line x1="302.5" y1="624.2" x2="307" y2="624.2" stroke="#000" stroke-width="1.5"/>
<path d="M305.2 620.6L311.7 624.2L305.2 627.8z"/>
<text x="268.5" y="663" font-size="11.3">OxPAPC:</text>
<line x1="320.2" y1="658.3" x2="323.40000000000003" y2="658.3" stroke="#000" stroke-width="1.1"/>
<line x1="344.4" y1="658.3" x2="347.6" y2="658.3" stroke="#000" stroke-width="1.1"/>
<line x1="368.2" y1="658.3" x2="371.40000000000003" y2="658.3" stroke="#000" stroke-width="1.1"/>
<line x1="392.4" y1="658.3" x2="395.6" y2="658.3" stroke="#000" stroke-width="1.1"/>
<line x1="415.0" y1="660.6" x2="421.4" y2="660.6" stroke="#000" stroke-width="1.1"/>
<line x1="418.2" y1="657.4" x2="418.2" y2="663.8" stroke="#000" stroke-width="1.1"/>
<line x1="440.1" y1="660.6" x2="446.5" y2="660.6" stroke="#000" stroke-width="1.1"/>
<line x1="443.3" y1="657.4" x2="443.3" y2="663.8" stroke="#000" stroke-width="1.1"/>
<line x1="463.6" y1="660.6" x2="470.0" y2="660.6" stroke="#000" stroke-width="1.1"/>
<line x1="466.8" y1="657.4" x2="466.8" y2="663.8" stroke="#000" stroke-width="1.1"/>
<line x1="487.8" y1="660.6" x2="494.2" y2="660.6" stroke="#000" stroke-width="1.1"/>
<line x1="491.0" y1="657.4" x2="491.0" y2="663.8" stroke="#000" stroke-width="1.1"/>
</g>
<g id="panelH">
<text x="269" y="787" font-size="16" font-weight="bold">H</text>
<rect x="327.00" y="845.30" width="169.50" height="22.60" fill="#cfcfcf"/>
<g filter="url(#hblur)">
<rect x="332.29999999999995" y="850" width="15.2" height="11" rx="1.6" fill="url(#ugrad)" opacity="0.54"/>
<path d="M332.5 851v8M347.29999999999995 851v8" fill="none" stroke="#000" stroke-width="1.2" opacity="0.24"/>
<rect x="381.09999999999997" y="850" width="15.2" height="11" rx="1.6" fill="url(#ugrad)" opacity="0.7"/>
<path d="M381.3 851v8M396.09999999999997 851v8" fill="none" stroke="#000" stroke-width="1.2" opacity="0.32"/>
<rect x="405.29999999999995" y="850" width="15.2" height="11" rx="1.6" fill="url(#ugrad)" opacity="0.52"/>
<path d="M405.5 851v8M420.29999999999995 851v8" fill="none" stroke="#000" stroke-width="1.2" opacity="0.23"/>
<rect x="428.29999999999995" y="850" width="15.2" height="11" rx="1.6" fill="url(#ugrad)" opacity="0.11"/>
<path d="M428.5 851v8M443.29999999999995 851v8" fill="none" stroke="#000" stroke-width="1.2" opacity="0.05"/>
<rect x="452.09999999999997" y="850" width="15.2" height="11" rx="1.6" fill="url(#ugrad)" opacity="0.47"/>
<path d="M452.3 851v8M467.09999999999997 851v8" fill="none" stroke="#000" stroke-width="1.2" opacity="0.21"/>
<rect x="476.29999999999995" y="850" width="15.2" height="11" rx="1.6" fill="url(#ugrad)" opacity="0.45"/>
<path d="M476.5 851v8M491.29999999999995 851v8" fill="none" stroke="#000" stroke-width="1.2" opacity="0.20"/>
</g>
<rect x="327.00" y="881.70" width="169.50" height="22.00" fill="#dcdcdc"/>
<g filter="url(#hblur)">
<g opacity="0.82"><ellipse cx="333.5" cy="892.4" rx="4.6" ry="2.9"/><ellipse cx="343.5" cy="892.4" rx="4.6" ry="2.9"/><rect x="333.5" y="890.6" width="10" height="3.6"/></g>
<g opacity="0.64"><ellipse cx="382.3" cy="892.4" rx="4.6" ry="2.9"/><ellipse cx="392.3" cy="892.4" rx="4.6" ry="2.9"/><rect x="382.3" y="890.6" width="10" height="3.6"/></g>
<g opacity="0.8"><ellipse cx="406.5" cy="892.4" rx="4.6" ry="2.9"/><ellipse cx="416.5" cy="892.4" rx="4.6" ry="2.9"/><rect x="406.5" y="890.6" width="10" height="3.6"/></g>
<g opacity="0.74"><ellipse cx="453.3" cy="892.4" rx="4.6" ry="2.9"/><ellipse cx="463.3" cy="892.4" rx="4.6" ry="2.9"/><rect x="453.3" y="890.6" width="10" height="3.6"/></g>
<g opacity="0.7"><ellipse cx="477.5" cy="892.4" rx="4.6" ry="2.9"/><ellipse cx="487.5" cy="892.4" rx="4.6" ry="2.9"/><rect x="477.5" y="890.6" width="10" height="3.6"/></g>
</g>
<rect x="327.00" y="917.00" width="169.50" height="22.70" fill="#d3d3d3"/>
<rect x="489" y="917.3" width="7.5" height="22.5" fill="#c2c2c2" filter="url(#hblur)"/>
<g filter="url(#hblur)">
<g opacity="0.76"><ellipse cx="333.5" cy="927.2" rx="4.6" ry="2.9"/><ellipse cx="343.5" cy="927.2" rx="4.6" ry="2.9"/><rect x="333.5" y="925.2" width="10.0" height="4.0"/></g>
<g opacity="0.68"><ellipse cx="382.3" cy="927.2" rx="4.6" ry="2.9"/><ellipse cx="392.3" cy="927.2" rx="4.6" ry="2.9"/><rect x="382.3" y="925.2" width="10.0" height="4.0"/></g>
<g opacity="0.95"><ellipse cx="453.7" cy="928.2" rx="5.6" ry="3.5"/><ellipse cx="465.90000000000003" cy="928.2" rx="5.6" ry="3.5"/><rect x="453.7" y="925.76" width="12.2" height="4.88"/></g>
<g opacity="0.08"><ellipse cx="357.5" cy="927.2" rx="4.6" ry="2.9"/><ellipse cx="367.5" cy="927.2" rx="4.6" ry="2.9"/><rect x="357.5" y="925.2" width="10.0" height="4.0"/></g>
<g opacity="0.1"><ellipse cx="477.5" cy="927.2" rx="4.6" ry="2.9"/><ellipse cx="487.5" cy="927.2" rx="4.6" ry="2.9"/><rect x="477.5" y="925.2" width="10.0" height="4.0"/></g>
</g>
<text x="300.7" y="821.8" font-size="11" text-anchor="middle">Gene,</text>
<text x="300.7" y="832.5" font-size="11" text-anchor="middle">site</text>
<path d="M299.2 835.3h3v4.2h2.3l-3.8 4.3l-3.8-4.3h2.3z" fill="#fff" stroke="#000" stroke-width="0.9"/>
<text x="300.5" y="855" font-size="11" text-anchor="middle">VEGF,</text>
<text x="300.5" y="867.3" font-size="11" text-anchor="middle">„AsnSyn“</text>
<text x="296.5" y="890" font-size="11" text-anchor="middle">Asp.synt.,</text>
<text x="297" y="902.5" font-size="11" text-anchor="middle">„NSRE-1“</text>
<text x="297.5" y="926.9" font-size="11" text-anchor="middle">VEGF,</text>
<text x="298.7" y="939.3" font-size="11" text-anchor="middle">„CHOP1“</text>
<text x="320.8" y="958.5" font-size="11.3" text-anchor="end">OxPAPC:</text>
<text x="320.8" y="974.4" font-size="11.3" text-anchor="end">Tunica:</text>
<text x="340.0" y="844.7" font-size="11" transform="rotate(-45 340.0 844.7)">Input</text>
<text x="364.3" y="846" font-size="11" transform="rotate(-45 364.3 846)">Anti-ATF4</text>
<text x="389.5" y="844.7" font-size="11" transform="rotate(-45 389.5 844.7)">Input</text>
<text x="411.9" y="844.7" font-size="11" transform="rotate(-45 411.9 844.7)">Anti-ATF4</text>
<text x="434.8" y="844.7" font-size="11" transform="rotate(-45 434.8 844.7)">Non-immune</text>
<text x="457.5" y="844.7" font-size="11" transform="rotate(-45 457.5 844.7)">Input</text>
<text x="481.2" y="844.7" font-size="11" transform="rotate(-45 481.2 844.7)">anti-ATF4</text>
<line x1="336.0" y1="954" x2="339.0" y2="954" stroke="#000" stroke-width="1.0"/>
<line x1="336.0" y1="970" x2="339.0" y2="970" stroke="#000" stroke-width="1.0"/>
<line x1="359.5" y1="954" x2="362.5" y2="954" stroke="#000" stroke-width="1.0"/>
<line x1="359.5" y1="970" x2="362.5" y2="970" stroke="#000" stroke-width="1.0"/>
<line x1="383.5" y1="955.6" x2="389.7" y2="955.6" stroke="#000" stroke-width="1.0"/>
<line x1="386.6" y1="952.5" x2="386.6" y2="958.7" stroke="#000" stroke-width="1.0"/>
<line x1="385.0" y1="970" x2="388.0" y2="970" stroke="#000" stroke-width="1.0"/>
<line x1="407.7" y1="955.6" x2="413.9" y2="955.6" stroke="#000" stroke-width="1.0"/>
<line x1="410.8" y1="952.5" x2="410.8" y2="958.7" stroke="#000" stroke-width="1.0"/>
<line x1="409.2" y1="970" x2="412.2" y2="970" stroke="#000" stroke-width="1.0"/>
<line x1="434.3" y1="955.6" x2="440.5" y2="955.6" stroke="#000" stroke-width="1.0"/>
<line x1="437.40000000000003" y1="952.5" x2="437.40000000000003" y2="958.7" stroke="#000" stroke-width="1.0"/>
<line x1="435.8" y1="970" x2="438.8" y2="970" stroke="#000" stroke-width="1.0"/>
<line x1="459.8" y1="954" x2="462.8" y2="954" stroke="#000" stroke-width="1.0"/>
<line x1="458.3" y1="971.6" x2="464.5" y2="971.6" stroke="#000" stroke-width="1.0"/>
<line x1="461.40000000000003" y1="968.5" x2="461.40000000000003" y2="974.7" stroke="#000" stroke-width="1.0"/>
<line x1="483.5" y1="954" x2="486.5" y2="954" stroke="#000" stroke-width="1.0"/>
<line x1="482" y1="971.6" x2="488.2" y2="971.6" stroke="#000" stroke-width="1.0"/>
<line x1="485.1" y1="968.5" x2="485.1" y2="974.7" stroke="#000" stroke-width="1.0"/>
</g>
</svg>
</body></html>
